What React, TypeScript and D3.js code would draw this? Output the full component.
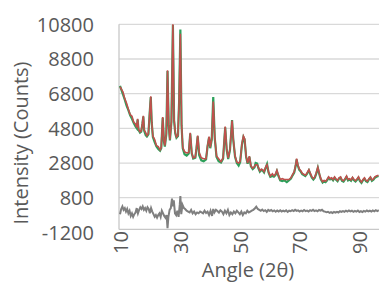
import { scaleLinear, line } from "d3";

const width = 379;
const height = 282;

const yTicks = [-1200, 800, 2800, 4800, 6800, 8800, 10800];
const xTicks = [10, 30, 50, 70, 90];

// observed pattern [2theta, counts]
const observed = [
  [10.0, 7300], [10.5, 7050], [11.0, 6800], [11.6, 6500], [12.2, 6150], [12.8, 5900],
  [13.4, 5600], [14.0, 5400], [14.6, 5150], [15.2, 4950], [15.6, 4850], [15.9, 5350],
  [16.2, 4750], [16.7, 4600], [17.1, 4650], [17.5, 5100], [17.8, 5520], [18.1, 4700],
  [18.6, 4450], [19.0, 4380], [19.5, 4500], [20.0, 5900], [20.3, 6650], [20.6, 5200],
  [21.0, 4350], [21.6, 4050], [22.2, 3800], [22.8, 3650], [23.4, 3560], [23.8, 3700],
  [24.3, 5450], [24.7, 4100], [25.0, 3800], [25.5, 4500], [25.9, 8150], [26.3, 5000],
  [26.7, 4150], [27.2, 5200], [27.7, 10800], [28.1, 5300], [28.5, 4550], [28.9, 4300],
  [29.4, 4400], [29.8, 6500], [30.2, 10550], [30.6, 5000], [31.0, 3700], [31.6, 3350],
  [32.3, 3280], [33.0, 3400], [33.5, 4550], [34.0, 3400], [34.5, 3100], [35.2, 3150],
  [35.6, 3700], [36.0, 4380], [36.5, 3300], [37.2, 3000], [38.0, 2950], [38.8, 3050],
  [39.3, 3800], [39.8, 4320], [40.2, 3700], [40.7, 4200], [41.2, 6650], [41.7, 4300],
  [42.3, 3200], [43.0, 2950], [43.8, 2880], [44.5, 3100], [45.2, 4900], [45.7, 3600],
  [46.2, 3080], [46.8, 3600], [47.5, 5330], [47.9, 4200], [48.5, 3200], [49.1, 2850],
  [49.7, 2700], [50.2, 2900], [50.8, 3900], [51.3, 4350], [51.7, 4200], [52.2, 3200],
  [52.7, 2800], [53.3, 3200], [53.8, 2650], [54.4, 2500], [55.0, 2600], [55.4, 2850],
  [55.9, 2820], [56.3, 2550], [56.8, 2350], [57.3, 2450], [57.7, 2420], [58.2, 2300],
  [58.8, 2600], [59.2, 2780], [59.7, 2300], [60.3, 2050], [61.0, 2100], [61.5, 2060],
  [62.0, 2150], [62.5, 2380], [63.0, 2100], [63.6, 1850], [64.3, 1800], [65.0, 1850],
  [65.8, 1750], [66.5, 1850], [67.2, 1950], [67.8, 2150], [68.3, 2300], [68.8, 2700],
  [69.1, 3050], [69.5, 2700], [70.0, 2450], [70.5, 2350], [71.0, 2200], [71.5, 2150],
  [72.0, 2100], [72.5, 2200], [73.2, 2420], [73.7, 2200], [74.2, 2000], [74.7, 1900],
  [75.2, 2000], [75.7, 2250], [76.2, 2560], [76.7, 2200], [77.2, 1900], [77.8, 1720],
  [78.3, 1800], [78.8, 1750], [79.3, 1850], [79.8, 2000], [80.3, 1900], [80.8, 1950],
  [81.3, 1850], [81.8, 2000], [82.3, 1880], [82.8, 1800], [83.3, 1950], [83.8, 2000],
  [84.3, 1820], [84.8, 1780], [85.3, 1900], [85.8, 2050], [86.3, 1850], [86.8, 1900],
  [87.3, 1820], [87.8, 1980], [88.3, 1850], [88.8, 1780], [89.3, 1880], [89.8, 2000],
  [90.3, 1800], [90.8, 1700], [91.3, 1850], [91.8, 1950], [92.3, 1800], [92.8, 1750],
  [93.3, 1900], [93.8, 2000], [94.3, 1820], [94.8, 1880], [95.3, 2000], [95.8, 2050],
  [96.5, 2100],
];

// calculated pattern differs from observed only at these angles
const calculatedOverrides = [
  [10.0, 7200], [11.0, 6900], [12.2, 6250], [14.0, 5500], [15.2, 5050], [18.6, 4550],
  [21.6, 4150], [22.8, 3750], [30.2, 10250], [31.6, 3450], [32.3, 3380], [36.5, 3400],
  [37.2, 3100], [38.0, 3050], [41.2, 6350], [43.0, 3050], [47.5, 5250], [49.7, 2800],
  [55.4, 2700], [55.9, 2700], [59.2, 2700], [61.0, 2180], [64.3, 1900], [65.8, 1850],
];

// difference curve [2theta, counts]
const difference = [
  [10.0, -150], [10.4, 150], [10.8, 300], [11.2, 100], [11.6, 200], [12.0, 0],
  [12.4, 150], [12.8, -100], [13.2, 50], [13.6, -250], [14.0, -100], [14.4, -300],
  [14.8, -150], [15.2, -50], [15.6, 200], [16.0, -100], [16.4, 100], [16.8, 250],
  [17.2, 150], [17.6, 300], [18.0, 100], [18.4, 200], [18.8, 50], [19.2, 250],
  [19.6, 150], [20.0, -100], [20.4, 200], [20.8, 0], [21.2, -150], [21.6, -300],
  [22.0, -200], [22.4, -350], [22.8, -200], [23.2, -100], [23.6, -300], [24.0, 50],
  [24.4, -100], [24.8, -250], [25.2, -350], [25.6, -200], [25.9, -950], [26.2, -300],
  [26.6, 100], [27.0, 200], [27.4, 750], [27.7, 300], [28.0, 650], [28.4, -100],
  [28.8, -200], [29.2, 50], [29.6, -300], [30.0, 400], [30.2, 900], [30.5, -150],
  [30.9, 400], [31.4, 200], [31.8, 150], [32.3, 50], [32.8, 0], [33.3, -50],
  [33.8, 100], [34.3, -100], [34.8, 0], [35.3, -150], [35.8, -50], [36.3, -100],
  [36.8, 0], [37.3, -50], [37.8, -100], [38.3, 50], [38.8, -80], [39.3, 0],
  [39.8, -200], [40.3, 50], [40.8, -250], [41.2, 150], [41.6, -50], [42.1, 100],
  [42.6, 30], [43.1, -60], [43.6, 80], [44.1, 0], [44.6, -150], [45.1, 50],
  [45.6, -100], [46.1, 100], [46.6, -200], [47.1, -50], [47.6, -150], [48.1, 0],
  [48.6, -100], [49.1, 50], [49.6, -50], [50.1, -150], [50.6, 0], [51.1, -200],
  [51.6, -50], [52.1, -100], [52.6, 50], [53.1, -50], [53.6, 0], [54.1, 50],
  [54.6, 100], [55.1, 180], [55.6, 280], [56.1, 150], [56.6, 100], [57.1, 50],
  [57.6, 120], [58.1, 30], [58.6, 80], [59.1, -20], [59.6, 100], [60.1, 40],
  [60.6, 90], [61.1, 20], [61.6, 70], [62.1, -10], [62.6, 60], [63.1, 10],
  [63.6, 80], [64.1, 0], [64.6, 50], [65.1, 10], [65.6, 70], [66.1, -20],
  [66.6, 50], [67.1, 20], [67.6, 80], [68.1, 30], [68.6, 100], [69.1, 40],
  [69.6, 70], [70.1, 0], [70.6, 60], [71.1, 20], [71.6, 90], [72.1, 30],
  [72.6, 60], [73.1, 10], [73.6, 80], [74.1, 40], [74.6, 100], [75.1, 30],
  [75.6, 70], [76.1, 20], [76.6, 90], [77.1, 50], [77.6, 100], [78.1, 20],
  [78.6, 0], [79.1, -40], [79.6, -10], [80.1, -70], [80.6, -30], [81.1, -80],
  [81.6, -20], [82.1, -60], [82.6, -10], [83.1, -50], [83.6, 20], [84.1, -20],
  [84.6, 30], [85.1, -10], [85.6, 50], [86.1, 0], [86.6, 60], [87.1, 10],
  [87.6, 50], [88.1, -10], [88.6, 40], [89.1, 0], [89.6, 60], [90.1, -20],
  [90.6, 30], [91.1, -30], [91.6, 40], [92.1, 0], [92.6, 60], [93.1, 10],
  [93.6, 50], [94.1, 0], [94.6, 70], [95.1, 20], [95.6, 80], [96.1, 30],
  [96.6, 80],
];

const textColor = "#595959";
const gridColor = "#d9d9d9";
const fontFamily = "'Open Sans', sans-serif";

const App = () => {
  const xScale = scaleLinear().domain([10, 97]).range([120, 380]);
  const yScale = scaleLinear().domain([-1200, 10800]).range([232.4, 24.3]);

  const overrideMap = new Map(calculatedOverrides.map((d) => [d[0], d[1]]));
  const calculated = observed.map((d) => [
    d[0],
    overrideMap.has(d[0]) ? overrideMap.get(d[0]) : d[1],
  ]);

  const lineGenerator = line<number[]>()
    .x((d) => xScale(d[0]))
    .y((d) => yScale(d[1]));

  const left = xScale(10) - 1;

  return (
    <svg
      width={width}
      height={height}
      style={{ position: "absolute", left: 0, top: 0, background: "#fff" }}
      fontFamily={fontFamily}
    >
      {yTicks.slice(1).map((t) => (
        <line
          key={t}
          x1={left}
          x2={width}
          y1={yScale(t)}
          y2={yScale(t)}
          stroke={gridColor}
          strokeWidth={1.3}
        />
      ))}
      <line x1={left} x2={width} y1={yScale(-1200) - 3} y2={yScale(-1200) - 3} stroke="#c8c8c8" strokeWidth={1.3} />
      <line x1={left} x2={left} y1={yScale(10800)} y2={yScale(-1200) - 3} stroke="#c8c8c8" strokeWidth={1.3} />

      <path d={lineGenerator(difference) ?? ""} fill="none" stroke="#7f7f7f" strokeWidth={2} />
      <path
        d={lineGenerator(observed) ?? ""}
        fill="none"
        stroke="#2ca05a"
        strokeWidth={2.2}
        transform="translate(0,0.8)"
      />
      <path d={lineGenerator(calculated) ?? ""} fill="none" stroke="#c0504d" strokeWidth={1.6} />

      {yTicks.map((t) => (
        <text
          key={t}
          x={94}
          y={yScale(t)}
          dy="0.36em"
          textAnchor="end"
          fontSize={20}
          fill={textColor}
        >
          {t}
        </text>
      ))}

      {xTicks.map((t) => (
        <text
          key={t}
          transform={`translate(${xScale(t) + 8},231) rotate(-90)`}
          textAnchor="end"
          fontSize={20}
          fill={textColor}
        >
          {t}
        </text>
      ))}

      <text
        transform="translate(28,143) rotate(-90)"
        textAnchor="middle"
        fontSize={20}
        fill={textColor}
      >
        Intensity (Counts)
      </text>
      <text x={248} y={277} textAnchor="middle" fontSize={20} fill={textColor}>
        Angle (2θ)
      </text>
    </svg>
  );
};

export default App;
